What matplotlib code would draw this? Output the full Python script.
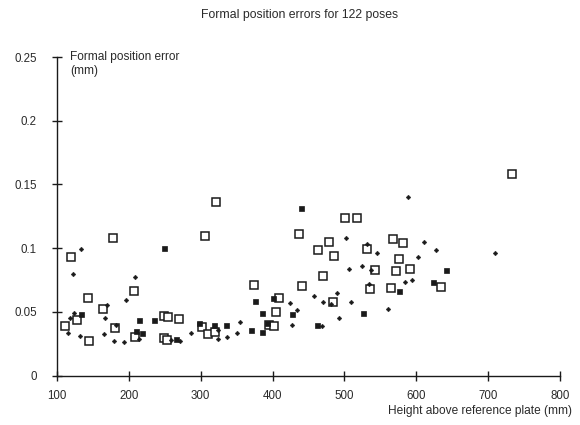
# Formal position errors vs height above reference plate: scatter, three marker types
import matplotlib
matplotlib.use("Agg")
import matplotlib.pyplot as plt

# ----------------------------
# data
# ----------------------------
open_x = [111.5, 119.5, 128, 143.6, 144, 164, 177.5, 181, 207, 208.6,
          249.4, 254.5, 248.5, 253, 269.4, 302, 306, 310.6, 320, 321,
          374.3, 395.6, 402.6, 404.5, 409.5, 437, 441.5, 463.8, 470.7, 479,
          484.4, 485.6, 501, 517, 531, 535.7, 543.2, 565.5, 568.2, 571.5,
          575.7, 581.2, 591.4, 634, 733]
open_y = [0.039, 0.093, 0.0436, 0.0606, 0.0273, 0.052, 0.108, 0.0375, 0.066, 0.0305,
          0.047, 0.0457, 0.0297, 0.0279, 0.0443, 0.0383, 0.1095, 0.0326, 0.034, 0.136,
          0.0708, 0.040, 0.0389, 0.050, 0.061, 0.1108, 0.070, 0.0985, 0.0783, 0.1046,
          0.058, 0.0938, 0.1234, 0.1234, 0.0993, 0.068, 0.0828, 0.069, 0.107, 0.0823,
          0.0914, 0.1038, 0.0834, 0.0695, 0.158]

filled_x = [133.4, 209.5, 214.6, 218.8, 234.6, 249.4, 266, 298, 318.6, 335.7,
            370, 375.7, 385, 385.8, 392, 400.2, 427, 439.8, 461.5, 526.5,
            576.6, 623.5, 642]
filled_y = [0.048, 0.035, 0.0436, 0.0334, 0.0436, 0.0998, 0.029, 0.041, 0.040, 0.0396,
            0.0355, 0.0585, 0.0488, 0.0344, 0.041, 0.0606, 0.048, 0.1317, 0.0396, 0.0493,
            0.0666, 0.073, 0.0828]

dot_x = [116, 118.5, 122, 123, 131.5, 133.8, 165, 166.4, 169.6, 179,
         182, 193.7, 196.5, 208, 213.7, 258.7, 270.8, 286.5, 323.7, 323.7,
         336, 350, 354.8, 424.5, 426.7, 434.6, 457.8, 468.4, 469.6, 481,
         490, 492.5, 502.8, 506.8, 509, 525, 532, 534.7, 537, 546,
         561, 584.5, 588, 593.8, 602, 611.3, 627.6, 709.5]
dot_y = [0.0336, 0.045, 0.0797, 0.049, 0.031, 0.099, 0.0328, 0.045, 0.055, 0.027,
         0.040, 0.026, 0.059, 0.077, 0.029, 0.028, 0.027, 0.033, 0.029, 0.036,
         0.0305, 0.0336, 0.0418, 0.057, 0.040, 0.0514, 0.0627, 0.0389, 0.0574, 0.056,
         0.065, 0.0454, 0.1077, 0.0834, 0.0574, 0.086, 0.103, 0.0716, 0.083, 0.0964,
         0.052, 0.0736, 0.1404, 0.075, 0.0928, 0.1045, 0.0985, 0.096]

x_ticks = [100, 200, 300, 400, 500, 600, 700, 800]
y_ticks = [0, 0.05, 0.1, 0.15, 0.2, 0.25]
y_tick_labels = ["0", "0.05", "0.1", "0.15", "0.2", "0.25"]

title = "Formal position errors for 122 poses"
y_label = "Formal position error\n(mm)"
x_label = "Height above reference plate (mm)"

# ----------------------------
# plot
# ----------------------------
plt.rcParams["font.family"] = ["Liberation Sans", "DejaVu Sans"]
ink = "#1a1a1a"
txt = "#2a2a2a"

fig = plt.figure(figsize=(5.8, 4.25), dpi=100)
ax = fig.add_axes([57 / 580, 1 - 375.5 / 425, (560 - 57) / 580, (375.5 - 57) / 425])

ax.plot(open_x, open_y, ls="none", marker="s", ms=6.3, mfc="white", mec=ink, mew=1.1)
ax.plot(filled_x, filled_y, ls="none", marker="s", ms=3.6, mfc=ink, mec=ink, mew=0.5)
ax.plot(dot_x, dot_y, ls="none", marker="D", ms=2.4, mfc=ink, mec=ink, mew=0.3)

ax.set_xlim(100, 800)
ax.set_ylim(0, 0.25)
ax.set_xticks(x_ticks)
ax.set_yticks(y_ticks)
ax.set_yticklabels(y_tick_labels)

for side in ("top", "right"):
    ax.spines[side].set_visible(False)
for side in ("left", "bottom"):
    ax.spines[side].set_linewidth(1.0)
    ax.spines[side].set_color(ink)
    ax.spines[side].set_clip_on(False)

ax.tick_params(direction="inout", length=7, width=1.0, color=ink,
               labelsize=8.3, labelcolor=txt)
ax.tick_params(axis="y", pad=11)
ax.tick_params(axis="x", pad=7)

fig.text(300 / 580, 1 - 15 / 425, title, ha="center", va="center",
         fontsize=8.8, color=txt)
fig.text(70 / 580, 1 - 64 / 425, y_label, ha="left", va="center",
         fontsize=8.6, color=txt, linespacing=1.2)
fig.text(572 / 580, 1 - 411 / 425, x_label, ha="right", va="center",
         fontsize=8.6, color=txt)

fig.savefig("out.png", dpi=100)
